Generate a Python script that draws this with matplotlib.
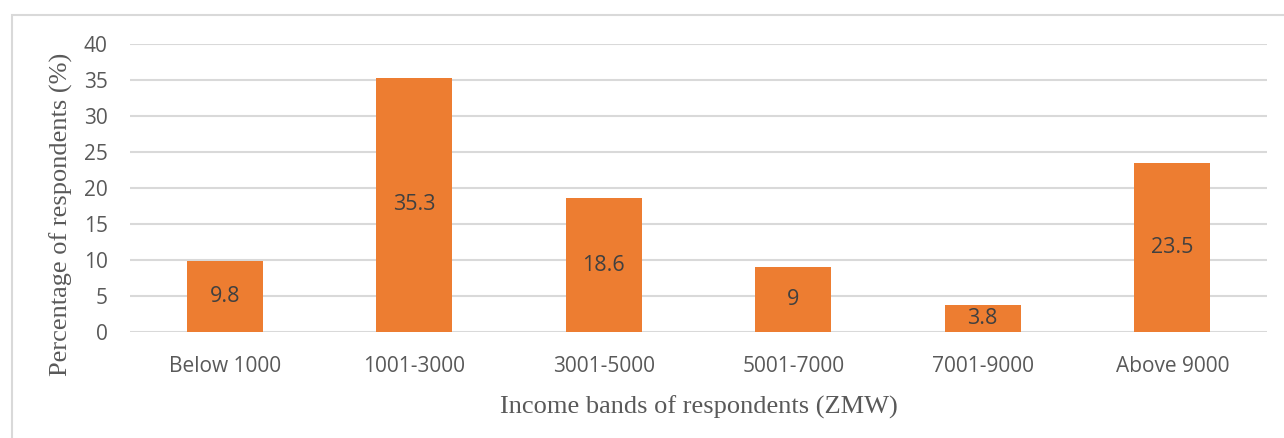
import matplotlib
matplotlib.use("Agg")
import matplotlib.pyplot as plt
from matplotlib.patches import Rectangle

categories = ["Below 1000", "1001-3000", "3001-5000", "5001-7000", "7001-9000", "Above 9000"]
values = [9.8, 35.3, 18.6, 9, 3.8, 23.5]
labels = ["9.8", "35.3", "18.6", "9", "3.8", "23.5"]
yticks = [0, 5, 10, 15, 20, 25, 30, 35, 40]

W, H = 1284, 438
fig = plt.figure(figsize=(W/100, H/100), dpi=100)
ax = fig.add_axes([130/W, 1-332/H, (1267-130)/W, (332-44)/H])

x = list(range(len(categories)))
bars = ax.bar(x, values, width=0.40, color="#ED7D31", zorder=3)
for xi, v, lab in zip(x, values, labels):
    ax.text(xi, v/2, lab, ha="center", va="center", fontsize=15.5,
            color="#404040", family="Open Sans", zorder=4)

ax.set_xlim(-0.5, len(categories)-0.5)
ax.set_ylim(0, 40)
ax.set_yticks(yticks)
ax.set_yticklabels([str(t) for t in yticks], family="Open Sans", fontsize=15, color="#595959")
ax.set_xticks(x)
ax.set_xticklabels(categories, family="Open Sans", fontsize=15, color="#595959")
ax.tick_params(axis="both", length=0)
ax.tick_params(axis="x", pad=17)
ax.tick_params(axis="y", pad=16)
ax.grid(axis="y", color="#d9d9d9", linewidth=1.5, zorder=0)
for s in ax.spines.values():
    s.set_visible(False)

ax.set_xlabel("Income bands of respondents (ZMW)", family="Liberation Serif",
              fontsize=19, color="#595959", labelpad=14)
ax.set_ylabel("Percentage of respondents (%)", family="Liberation Serif",
              fontsize=19, color="#595959")
ax.yaxis.set_label_coords(-0.050, 0.408)

fig.patches.append(Rectangle((12/W, -0.05), 1.1, (1-15/H)+0.05, transform=fig.transFigure,
                             fill=False, edgecolor="#d9d9d9", linewidth=1.5))

fig.savefig("out.png", dpi=100)
